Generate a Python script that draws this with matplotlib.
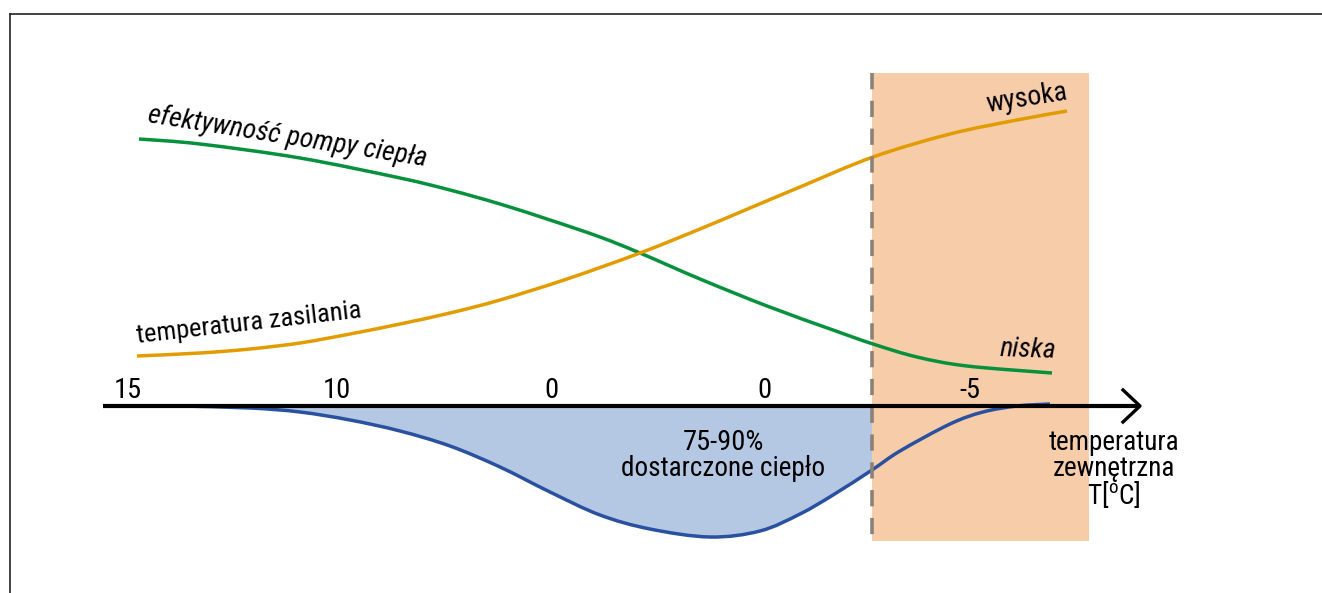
import matplotlib
matplotlib.use('Agg')
import matplotlib.pyplot as plt
from matplotlib import font_manager as fm
from matplotlib.path import Path
from matplotlib.patches import PathPatch
import numpy as np

# curves (x to the right, y downwards, in picture units)
green_x = [139, 200, 300, 400, 450, 500, 550, 600, 640, 700, 767, 833, 873, 917, 967, 1052]
green_y = [139, 144, 158, 178, 190, 204, 220, 237, 253, 279, 306, 330, 344, 357, 366, 373]

orange_x = [137, 200, 250, 300, 350, 400, 450, 500, 567, 640, 700, 750, 800, 873, 950, 1017, 1067]
orange_y = [356, 353, 349, 343, 334, 324, 313, 300, 279, 253, 229, 208, 187, 157, 134, 120, 111]

blue_x = [180, 250, 300, 350, 400, 450, 500, 550, 600, 650, 710, 760, 800, 833, 872, 900, 950, 983, 1017, 1050]
blue_y = [406, 408, 412, 420, 431, 446, 467, 492, 515, 529, 537, 531, 514, 495, 470, 451, 424, 412, 406, 404]

axis_y = 406
limit_x = 872          # dashed line / end of the filled area
zone = (872, 1089, 73, 541)

tick_x = [128, 337, 551, 764, 970]
tick_labels = ['15', '10', '0', '0', '-5']


# a narrow sans like the original, if one is installed
def pick_narrow():
    names = [f.name for f in fm.fontManager.ttflist]
    for n in ['Liberation Sans Narrow', 'Roboto Condensed', 'Open Sans Condensed',
              'DejaVu Sans Condensed', 'Noto Sans Condensed']:
        if n in names:
            return n, 'normal'
    for f in fm.fontManager.ttflist:
        if 'Narrow' in f.name or 'Condensed' in f.name:
            return f.name, 'normal'
    for f in fm.fontManager.ttflist:
        if str(f.stretch) in ('condensed', 'semi-condensed', 'extra-condensed'):
            return f.name, f.stretch
    return None, 'normal'


font, stretch = pick_narrow()
if font is None:
    font, k = 'Roboto', 0.86
else:
    k = 1.0
plt.rcParams['font.family'] = [font, 'DejaVu Sans']
plt.rcParams['font.stretch'] = stretch
plt.rcParams['mathtext.fontset'] = 'custom'
plt.rcParams['mathtext.rm'] = font


def smooth_path(xs, ys):
    # Catmull-Rom through the read points, drawn as cubic Bezier segments
    p = np.column_stack([xs, ys]).astype(float)
    ext = np.vstack([p[0], p, p[-1]])
    verts = [p[0]]
    codes = [Path.MOVETO]
    for i in range(1, len(ext) - 2):
        c1 = ext[i] + (ext[i + 1] - ext[i - 1]) / 6
        c2 = ext[i + 1] - (ext[i + 2] - ext[i]) / 6
        verts += [c1, c2, ext[i + 1]]
        codes += [Path.CURVE4] * 3
    return verts, codes


def curve(ax, xs, ys, color, z=4):
    v, c = smooth_path(xs, ys)
    ax.add_patch(PathPatch(Path(v, c), fc='none', ec=color, lw=2.5, zorder=z,
                           capstyle='butt'))


fig = plt.figure(figsize=(13.22, 5.93), dpi=100)
ax = fig.add_axes([0, 0, 1, 1])
ax.set_xlim(0, 1322)
ax.set_ylim(593, 0)
ax.axis('off')

# frame top / left
ax.plot([10, 1322], [14, 14], color='#222222', lw=1.2)
ax.plot([10, 10], [14, 593], color='#222222', lw=1.2)

# cold zone
ax.fill_between([zone[0], zone[1]], zone[2], zone[3], color='#F7CCA9', lw=0, zorder=1)

# heat delivered area, closed along the axis
n_fill = blue_x.index(limit_x) + 1
v, c = smooth_path(blue_x[:n_fill], blue_y[:n_fill])
v = v + [(limit_x, axis_y), (blue_x[0], axis_y), (0, 0)]
c = c + [Path.LINETO, Path.LINETO, Path.CLOSEPOLY]
ax.add_patch(PathPatch(Path(v, c), fc='#B4C8E4', ec='none', zorder=2))

curve(ax, blue_x, blue_y, '#2A50A0')
curve(ax, green_x, green_y, '#07913D')
curve(ax, orange_x, orange_y, '#E39C00')

# dashed limit
ax.plot([limit_x, limit_x], [zone[2], zone[3]], color='#8C8176', lw=2.6,
        dashes=(4.5, 3.2), zorder=5)

# horizontal axis with open arrow
ax.plot([103, 1139], [axis_y, axis_y], color='black', lw=3, zorder=6, solid_capstyle='butt')
ax.plot([1123, 1140, 1123], [390, axis_y, 422], color='black', lw=2.4, zorder=6)

for x, t in zip(tick_x, tick_labels):
    ax.text(x, 398, t, fontsize=20.5 * k, ha='center', va='baseline', zorder=7)

# labels
ax.text(147, 122, 'efektywność pompy ciepła', fontsize=20 * k, style='italic',
        rotation=-9, rotation_mode='anchor', ha='left', va='baseline')
ax.text(137, 343, 'temperatura zasilania', fontsize=19 * k,
        rotation=6.5, rotation_mode='anchor', ha='left', va='baseline')
ax.text(987, 112, 'wysoka', fontsize=20 * k,
        rotation=9, rotation_mode='anchor', ha='left', va='baseline')
ax.text(1000, 356, 'niska', fontsize=20 * k, style='italic',
        rotation=-2, rotation_mode='anchor', ha='left', va='baseline')

ax.text(723, 450, '75-90%', fontsize=20.5 * k, ha='center', va='baseline', zorder=7)
ax.text(723, 476, 'dostarczone ciepło', fontsize=19.5 * k, ha='center', va='baseline', zorder=7)

ax.text(1114, 450, 'temperatura', fontsize=19.5 * k, ha='center', va='baseline', zorder=7)
ax.text(1114, 476, 'zewnętrzna', fontsize=19.5 * k, ha='center', va='baseline', zorder=7)
ax.text(1114, 504, 'T[$^{\\mathregular{o}}$C]', fontsize=19.5 * k, ha='center', va='baseline', zorder=7)

fig.savefig('out.png', dpi=100)
